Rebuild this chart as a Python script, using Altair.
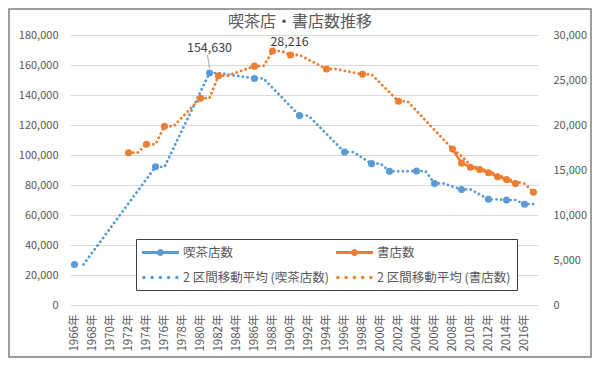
import altair as alt
import pandas as pd
import numpy as np

# ---- data ----
years = list(range(1966, 2018))

cafe_years = [1966, 1975, 1981, 1986, 1991, 1996, 1999, 2001, 2004, 2006, 2009, 2012, 2014, 2016]
cafe_counts = [27026, 92137, 154630, 151046, 126260, 101921, 94238, 89100, 89300, 81029, 77036, 70454, 69983, 67198]

book_years = [1972, 1974, 1976, 1980, 1982, 1986, 1988, 1990, 1994, 1998, 2002,
              2008, 2009, 2010, 2011, 2012, 2013, 2014, 2015, 2017]
book_counts = [16920, 17860, 19860, 22970, 25480, 26540, 28216, 27780, 26220, 25630, 22630,
               17330, 15765, 15314, 15061, 14696, 14241, 13943, 13488, 12526]

title_text = "喫茶店・書店数推移"
legend_labels = ["喫茶店数", "2 区間移動平均 (喫茶店数)", "書店数", "2 区間移動平均 (書店数)"]
left_ticks = list(range(0, 180001, 20000))
right_ticks = list(range(0, 30001, 5000))
x_ticks = list(range(1966, 2017, 2))

BLUE = "#5B9BD5"
ORANGE = "#ED7D31"
TXT = "#595959"
JP = "Noto Sans CJK JP"


def build(ys, vs):
    s = pd.Series(vs, index=ys, dtype=float).reindex(years)
    present = pd.DataFrame({"year": years, "v": s.values}).dropna().reset_index(drop=True)
    present["run"] = (present["year"].diff() != 1).cumsum()
    # Excel-style 2-period moving average over the category axis (blanks skipped)
    ma = pd.concat([s, s.shift(1)], axis=1).mean(axis=1)
    ma.iloc[0] = np.nan
    ma_df = pd.DataFrame({"year": years, "ma": ma.values}).dropna()
    peak = present.loc[[present["v"].idxmax()]]
    return present, ma_df, peak


cafe, cafe_ma, cafe_peak = build(cafe_years, cafe_counts)
book, book_ma, book_peak = build(book_years, book_counts)

xenc = alt.X("year:Q",
             scale=alt.Scale(domain=[1965.5, 2017.5], nice=False, zero=False),
             axis=alt.Axis(values=x_ticks, labelExpr="datum.value + '年'", labelAngle=-90,
                           ticks=False, domain=False, grid=False, title=None,
                           labelFontSize=11.5, labelColor=TXT, labelFont=JP,
                           labelPadding=9, labelOverlap=False))

yl_scale = alt.Scale(domain=[0, 180000], nice=False)
yr_scale = alt.Scale(domain=[0, 30000], nice=False)

yl_axis = alt.Axis(values=left_ticks, format=",d", grid=True, gridColor="#d9d9d9",
                   domain=False, ticks=False, title=None, labelFontSize=11,
                   labelColor=TXT, labelFont=JP, labelPadding=12)
yr_axis = alt.Axis(values=right_ticks, format=",d", grid=False, orient="right",
                   domain=False, ticks=False, title=None, labelFontSize=11,
                   labelColor=TXT, labelFont=JP, labelPadding=15)

# legend symbols: unit = 7.5px (symbolSize 225), drawn from x=-1 to ~3.93 (37px)
def circ(cx, r):
    return f"M{cx + r:.3f},0A{r},{r} 0 1,1 {cx - r:.3f},0A{r},{r} 0 1,1 {cx + r:.3f},0Z"

line_marker = "M-1,-0.2H3.93V0.2H-1Z " + circ(1.467, 0.467)
dots = " ".join(circ(c, 0.227) for c in [-0.75, 0.35, 1.45, 2.55, 3.65])

leg = alt.Legend(orient="none", legendX=66, legendY=204, columns=2, title=None,
                 fillColor="white", strokeColor="#404040", padding=6,
                 symbolSize=225, symbolStrokeWidth=0, labelFontSize=12.5,
                 labelColor=TXT, labelFont=JP, labelLimit=300, labelOffset=26,
                 rowPadding=11, columnPadding=7)

legend_df = pd.DataFrame({"series": legend_labels})
legend_layer = alt.Chart(legend_df).mark_point(filled=True, clip=True, opacity=1).encode(
    x=alt.value(-1000), y=alt.value(-1000),
    color=alt.Color("series:N", scale=alt.Scale(domain=legend_labels,
                                                 range=[BLUE, BLUE, ORANGE, ORANGE]), legend=leg),
    shape=alt.Shape("series:N", scale=alt.Scale(domain=legend_labels,
                                                 range=[line_marker, dots, line_marker, dots]), legend=leg),
)

frame = alt.Chart(pd.DataFrame({"a": [0]})).mark_rect(filled=False, stroke="#7f7f7f", strokeWidth=1.5).encode(
    x=alt.value(-61), x2=alt.value(521), y=alt.value(-26), y2=alt.value(322))

title = alt.Chart(pd.DataFrame({"t": [title_text]})).mark_text(
    fontSize=16, font=JP, color=TXT, baseline="middle", align="center").encode(
    x=alt.value(230), y=alt.value(-13), text="t:N")

dash = dict(strokeDash=[0.1, 4.6], strokeCap="round", strokeWidth=2.8)

# ---- left (喫茶店) ----
ylc = alt.Y("v:Q", scale=yl_scale, axis=yl_axis)
c_line = alt.Chart(cafe).mark_line(color=BLUE, strokeWidth=2.5).encode(x=xenc, y=ylc, detail="run:N")
c_ma = alt.Chart(cafe_ma).mark_line(color=BLUE, **dash).encode(
    x=xenc, y=alt.Y("ma:Q", scale=yl_scale, axis=yl_axis))
c_pts = alt.Chart(cafe).mark_circle(color=BLUE, size=50, opacity=1).encode(x=xenc, y=ylc)
c_lab = alt.Chart(cafe_peak).mark_text(dy=-25, fontSize=12.5, font=JP, color="#404040").encode(
    x=xenc, y=ylc, text=alt.Text("v:Q", format=",d"))
c_lead = alt.Chart(cafe_peak).mark_rule(color="#a6a6a6", strokeWidth=1, yOffset=-5,
                                         y2Offset=-18, x2Offset=-2).encode(
    x=xenc, x2="year:Q", y=ylc, y2="v:Q")

left = alt.layer(frame, title, c_line, c_ma, c_pts, c_lead, c_lab, legend_layer)

# ---- right (書店) ----
yrc = alt.Y("v:Q", scale=yr_scale, axis=yr_axis)
b_line = alt.Chart(book).mark_line(color=ORANGE, strokeWidth=2.5).encode(x=xenc, y=yrc, detail="run:N")
b_ma = alt.Chart(book_ma).mark_line(color=ORANGE, **dash).encode(
    x=xenc, y=alt.Y("ma:Q", scale=yr_scale, axis=yr_axis))
b_pts = alt.Chart(book).mark_circle(color=ORANGE, size=50, opacity=1).encode(x=xenc, y=yrc)
b_lab = alt.Chart(book_peak).mark_text(dx=17, dy=-9, fontSize=12.5, font=JP, color="#404040").encode(
    x=xenc, y=yrc, text=alt.Text("v:Q", format=",d"))

right = alt.layer(b_line, b_ma, b_pts, b_lab)

chart = alt.layer(left, right).resolve_scale(y="independent").properties(
    width=468, height=270,
    autosize=alt.AutoSizeParams(type="none"),
    padding={"left": 62, "top": 27, "right": 54, "bottom": 54},
    background="white",
).configure_view(stroke=None)

chart.save("out.html", embed_options={"renderer": "svg", "actions": False})
